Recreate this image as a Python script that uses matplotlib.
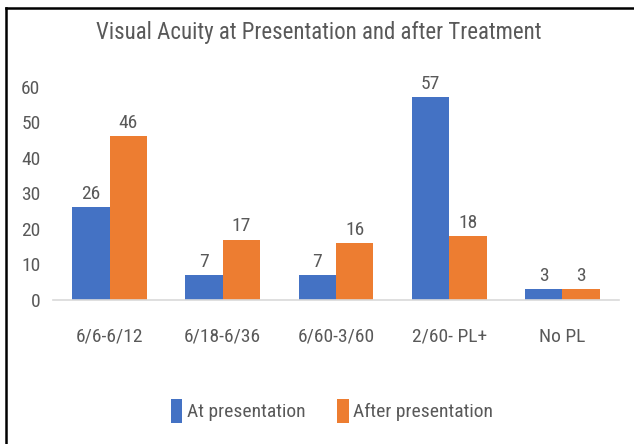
import numpy as np
import matplotlib
matplotlib.use('Agg')
import matplotlib.pyplot as plt
from matplotlib import font_manager
from matplotlib.lines import Line2D

categories = ['6/6-6/12', '6/18-6/36', '6/60-3/60', '2/60- PL+', 'No PL']
at_presentation = [26, 7, 7, 57, 3]
after_presentation = [46, 17, 16, 18, 3]
series_names = ['At presentation', 'After presentation']

# narrow, regular-weight font if there is one (the original looks squeezed)
fonts = font_manager.fontManager.ttflist
family, weight = 'DejaVu Sans', 'normal'
found = False
for cand in ['Liberation Sans Narrow', 'Roboto Condensed', 'Open Sans Condensed',
             'DejaVu Sans Condensed', 'Noto Sans Condensed']:
    for wt in [400, 300]:
        for f in fonts:
            if f.name == cand and f.style == 'normal' and \
                    (f.weight == wt or f.weight == {400: 'normal', 300: 'light'}[wt]):
                family, weight, found = cand, wt, True
                break
        if found:
            break
    if found:
        break
plt.rcParams['font.family'] = [family, 'DejaVu Sans']
plt.rcParams['font.weight'] = weight

W, H = 634, 444
fig = plt.figure(figsize=(W / 100, H / 100), dpi=100)

def fx(px):
    return px / W

def fy(py):
    return 1 - py / H

ax = fig.add_axes([fx(53), fy(300), fx(619) - fx(53), fy(86.5) - fy(300)])

blue = '#4472C4'
orange = '#ED7D31'
grey = '#595959'

x = np.arange(len(categories))
w = 0.33
b1 = ax.bar(x - w / 2, at_presentation, w, color=blue, label=series_names[0])
b2 = ax.bar(x + w / 2, after_presentation, w, color=orange, label=series_names[1])

for bars, vals in [(b1, at_presentation), (b2, after_presentation)]:
    for r, v in zip(bars, vals):
        ax.annotate(str(v), (r.get_x() + r.get_width() / 2, v), xytext=(0, 6),
                    textcoords='offset points', ha='center', va='baseline',
                    fontsize=14, color=grey, annotation_clip=False)

ax.set_xlim(-0.5, len(categories) - 0.5)
ax.set_ylim(0, 60)
ax.set_yticks(range(0, 61, 10))
ax.set_xticks(x)
ax.set_xticklabels(categories)
ax.tick_params(axis='both', length=0, labelsize=14, labelcolor=grey)
ax.tick_params(axis='x', pad=20)
ax.tick_params(axis='y', pad=9)
for s in ['top', 'right', 'left']:
    ax.spines[s].set_visible(False)
ax.spines['bottom'].set_color('#D9D9D9')
ax.spines['bottom'].set_linewidth(1.2)

fig.text(fx(319), fy(33), 'Visual Acuity at Presentation and after Treatment',
         ha='center', va='center', fontsize=16.5, color=grey)

fig.legend(handles=[b1, b2], loc='center', bbox_to_anchor=(fx(332), fy(411)),
           ncol=2, frameon=False, fontsize=14, labelcolor=grey,
           handlelength=0.6, handleheight=1.6, handletextpad=0.25, columnspacing=1.6)

# black frame lines (left and top edges of the cropped screenshot)
fig.add_artist(Line2D([fx(6), fx(6)], [fy(8), 0], color='black', lw=1.8))
fig.add_artist(Line2D([fx(6), 1], [fy(8), fy(8)], color='black', lw=1.8))

fig.savefig('out.png', dpi=100)
